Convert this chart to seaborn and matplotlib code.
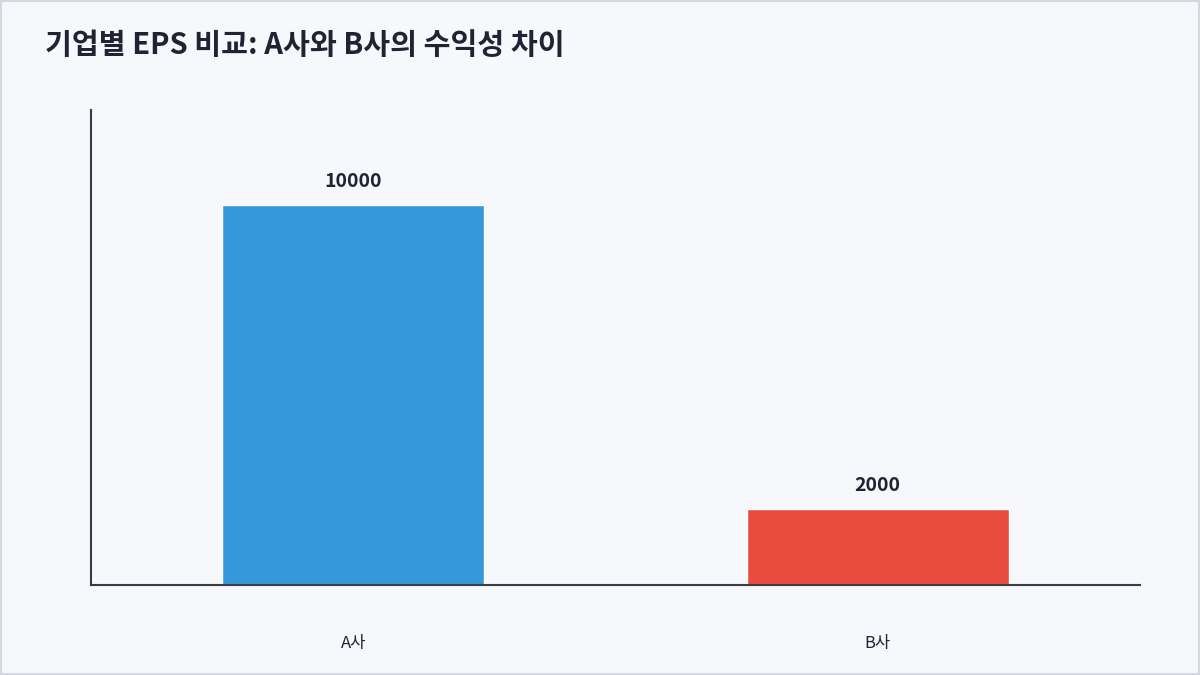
import matplotlib
matplotlib.use("Agg")
import matplotlib.pyplot as plt
import seaborn as sns
import pandas as pd
from matplotlib.patches import Rectangle

companies = ["A사", "B사"]
eps = [10000, 2000]
colors = ["#3498db", "#e74c3c"]

sns.set_style("white")
plt.rcParams['font.family'] = ['Noto Sans CJK KR', 'DejaVu Sans']

bg = "#f7f8fc"
fig = plt.figure(figsize=(12, 6.75), dpi=100, facecolor=bg)
fig.patches.append(Rectangle((0.001, 0.001), 0.998, 0.998, transform=fig.transFigure,
                             fill=False, edgecolor="#d5d8e0", linewidth=1.5))
ax = fig.add_axes([91/1200, 1-585/675, (1140-91)/1200, (585-110)/675])
ax.set_facecolor(bg)

df = pd.DataFrame({"company": companies, "eps": eps})
sns.barplot(data=df, x="company", y="eps", hue="company", palette=colors,
            width=0.5, legend=False, ax=ax, saturation=1)
ax.set_xlim(-0.5, 1.5)
ax.set_ylim(0, 12500)
for i, v in enumerate(eps):
    ax.annotate(str(v), (i, v), xytext=(0, 10), textcoords="offset points",
                ha="center", va="bottom", fontsize=14, fontweight="bold", color="#222233")
ax.set_yticks([])
ax.set_xlabel("")
ax.set_ylabel("")
ax.tick_params(axis="x", length=0, pad=36, labelsize=12, labelcolor="#222233")
for s in ["top", "right"]:
    ax.spines[s].set_visible(False)
for s in ["left", "bottom"]:
    ax.spines[s].set_color("#3a3a4a")
    ax.spines[s].set_linewidth(1.5)

fig.text(45/1200, 1-45/675, "기업별 EPS 비교: A사와 B사의 수익성 차이", fontsize=21,
         fontweight="bold", color="#222233", va="center", ha="left")
fig.savefig("out.png", dpi=100, facecolor=bg)
